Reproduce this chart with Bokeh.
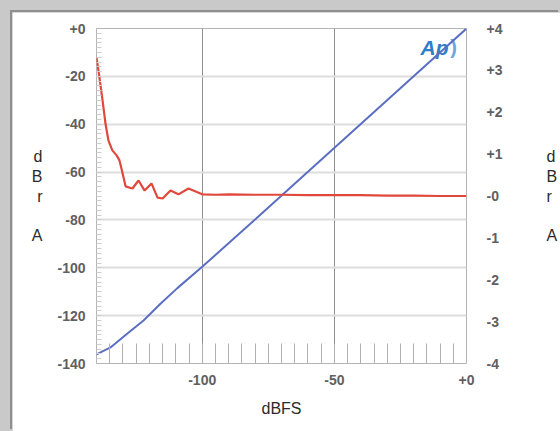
from bokeh.plotting import figure
from bokeh.models import Range1d, LinearAxis, FixedTicker, Label
from bokeh.layouts import column
from bokeh.embed import file_html
from bokeh.resources import INLINE

# Input level sweep (dBFS) and measured output level (dBrA, left axis)
level_x = [-140, -134.7, -128.3, -122.2, -115.8, -109.4, -100, -80, -60, -40, -20, 0]
level_y = [-136.2, -133.3, -127.5, -122.0, -115.0, -108.5, -99.6, -79.8, -59.9, -39.9, -20.0, 0.0]

# Gain deviation over the same sweep (dBrA, right axis)
dev_x = [-140, -139, -137.7, -136.6, -135.5, -134, -132.4, -131.3, -130.2, -129, -126.4,
         -124.1, -121.8, -119.2, -116.9, -115, -112, -109, -105.2, -100, -95, -90, -80,
         -70, -60, -50, -40, -30, -20, -10, 0]
dev_y = [3.31, 2.88, 2.28, 1.73, 1.33, 1.09, 0.97, 0.85, 0.56, 0.23, 0.18,
         0.37, 0.13, 0.30, -0.04, -0.06, 0.13, 0.04, 0.18, 0.04, 0.03, 0.04, 0.03,
         0.03, 0.02, 0.02, 0.02, 0.01, 0.01, 0.0, 0.0]

left_ticks = [-140, -120, -100, -80, -60, -40, -20, 0]
left_labels = ["-140", "-120", "-100", "-80", "-60", "-40", "-20", "+0"]
right_ticks = [-4, -3, -2, -1, 0, 1, 2, 3, 4]
right_labels = ["-4", "-3", "-2", "-1", "-0", "+1", "+2", "+3", "+4"]
x_ticks = [-100, -50, 0]
x_labels = ["-100", "-50", "+0"]

unit_label = "d\nB\nr\n\nA"

TICK_FONT = "Liberation Sans"
TICK_COLOR = "#606060"

p = figure(width=548, height=419, output_backend="svg", toolbar_location=None,
           x_range=Range1d(-140, 0), y_range=Range1d(-140, 0),
           min_border_left=84, min_border_right=94, min_border_top=16, min_border_bottom=68,
           background_fill_color="white", border_fill_color="white",
           outline_line_color="#b4b4b4", outline_line_width=1)
p.extra_y_ranges = {"dev": Range1d(-4, 4)}

# bottom axis
p.xaxis.ticker = FixedTicker(ticks=x_ticks, minor_ticks=[t for t in range(-135, 0, 5)])
p.xaxis.major_label_overrides = {t: s for t, s in zip(x_ticks, x_labels)}
p.xaxis.axis_line_color = None
p.xaxis.major_tick_line_color = None
p.xaxis.minor_tick_in = 20
p.xaxis.minor_tick_out = 0
p.xaxis.minor_tick_line_color = "#b0b0b0"
p.xaxis.major_label_standoff = 5
p.xaxis.axis_label = "dBFS"
p.xaxis.axis_label_standoff = 12

# left axis
p.yaxis.ticker = FixedTicker(ticks=left_ticks, minor_ticks=[t for t in range(-138, 0, 2)])
p.yaxis.major_label_overrides = {t: s for t, s in zip(left_ticks, left_labels)}
p.yaxis.axis_line_color = None
p.yaxis.major_tick_line_color = None
p.yaxis.minor_tick_in = 5
p.yaxis.minor_tick_out = 0
p.yaxis.minor_tick_line_color = "#cfcfcf"
p.yaxis.major_label_standoff = 5
p.yaxis.axis_label = unit_label
p.yaxis.axis_label_orientation = "horizontal"
p.yaxis.axis_label_standoff = 12

# right axis (deviation)
right = LinearAxis(y_range_name="dev", ticker=FixedTicker(ticks=right_ticks, minor_ticks=[]))
right.major_label_overrides = {t: s for t, s in zip(right_ticks, right_labels)}
right.axis_line_color = None
right.major_tick_line_color = None
right.minor_tick_line_color = None
right.major_label_standoff = 14
right.axis_label = unit_label
right.axis_label_orientation = "horizontal"
right.axis_label_standoff = 41
p.add_layout(right, "right")

for ax in (p.xaxis[0], p.yaxis[0], right):
    ax.major_label_text_font = TICK_FONT
    ax.major_label_text_font_size = "14px"
    ax.major_label_text_font_style = "bold"
    ax.major_label_text_color = TICK_COLOR
    ax.axis_label_text_font = TICK_FONT
    ax.axis_label_text_font_style = "normal"
    ax.axis_label_text_font_size = "16px"
    ax.axis_label_text_color = "#2a2a2a"
    ax.axis_label_text_line_height = 1.15

# grids
p.xgrid.ticker = FixedTicker(ticks=x_ticks)
p.xgrid.grid_line_color = "#8e8e8e"
p.xgrid.grid_line_width = 1
p.ygrid.ticker = FixedTicker(ticks=left_ticks)
p.ygrid.grid_line_color = "#dddddd"
p.ygrid.grid_line_width = 2

# Ap logo
p.add_layout(Label(x=338, y=316, x_units="screen", y_units="screen", text="Ap",
                   text_font=TICK_FONT, text_font_style="bold italic", text_font_size="21px",
                   text_color="#2f7fc6", text_align="center", text_baseline="middle",
                   level="underlay"))
p.add_layout(Label(x=357, y=317, x_units="screen", y_units="screen", text=")",
                   text_font=TICK_FONT, text_font_style="bold", text_font_size="20px",
                   text_color="#6aa6da", text_align="center", text_baseline="middle",
                   level="underlay"))

# data
p.line(level_x, level_y, line_color="#5b6fc2", line_width=2)
p.line(dev_x, dev_y, y_range_name="dev", line_color="#e0483c", line_width=2.2)

p.margin = (12, 0, 0, 12)
p.styles = {"box-shadow": "-2px -2px 0 #8f8f8f"}

root = column(p, width=560, height=431, styles={"background-color": "#c9c9c9"})

open("out.html", "w").write(file_html(root, INLINE))
